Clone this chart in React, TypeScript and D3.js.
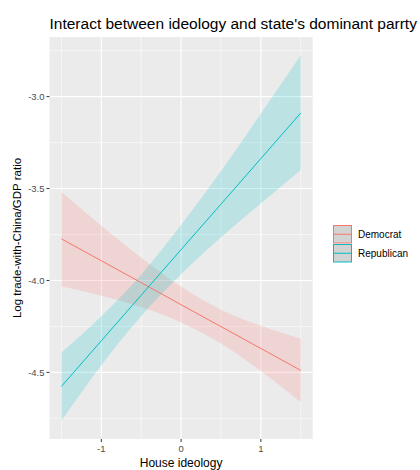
import React, { useEffect, useRef } from "react";
import * as d3 from "d3";

// House ideology values at which the fitted lines / bands were read
const ideology = [-1.5, -1, -0.5, 0, 0.5, 1, 1.5];

// Democrat fit and 95% band
const demFit = [-3.774, -3.893, -4.012, -4.132, -4.251, -4.37, -4.489];
const demLower = [-4.032, -4.083, -4.145, -4.228, -4.343, -4.493, -4.663];
const demUpper = [-3.519, -3.703, -3.877, -4.034, -4.159, -4.247, -4.317];

// Republican fit and 95% band
const repFit = [-4.576, -4.328, -4.08, -3.832, -3.585, -3.337, -3.089];
const repLower = [-4.763, -4.461, -4.193, -3.966, -3.765, -3.581, -3.399];
const repUpper = [-4.392, -4.195, -3.967, -3.698, -3.405, -3.093, -2.775];

const parties = ["Democrat", "Republican"];
const partyColors = ["#F8766D", "#00BFC4"];

const xTicks = [-1, 0, 1];
const xMinor = [-1.5, -0.5, 0.5, 1.5];
const yTicks = [-3.0, -3.5, -4.0, -4.5];
const yMinor = [-2.75, -3.25, -3.75, -4.25, -4.75];

export default function App() {
  const ref = useRef<SVGSVGElement>(null);

  useEffect(() => {
    const svg = d3.select(ref.current);
    svg.selectAll("*").remove();

    const panel = { left: 49.5, right: 312.7, top: 37, bottom: 439 };

    // ggplot style 5% expansion of the data range
    const xExt = d3.extent(ideology) as [number, number];
    const xPad = (xExt[1] - xExt[0]) * 0.05;
    const allY = [...demLower, ...demUpper, ...repLower, ...repUpper];
    const yExt = d3.extent(allY) as [number, number];
    const yPad = (yExt[1] - yExt[0]) * 0.05;

    const x = d3.scaleLinear()
      .domain([xExt[0] - xPad, xExt[1] + xPad])
      .range([panel.left, panel.right]);
    const y = d3.scaleLinear()
      .domain([yExt[0] - yPad, yExt[1] + yPad])
      .range([panel.bottom, panel.top]);

    const font = "'Liberation Sans', Arial, sans-serif";

    // title
    svg.append("text")
      .attr("x", panel.left)
      .attr("y", 29)
      .attr("font-family", font)
      .attr("font-size", 15.5)
      .attr("fill", "#000")
      .text("Interact between ideology and state's dominant parrty");

    // panel background
    svg.append("rect")
      .attr("x", panel.left)
      .attr("y", panel.top)
      .attr("width", panel.right - panel.left)
      .attr("height", panel.bottom - panel.top)
      .attr("fill", "#EBEBEB");

    const grid = svg.append("g");
    // minor grid
    grid.selectAll(".xmin").data(xMinor).enter().append("line")
      .attr("x1", d => x(d)).attr("x2", d => x(d))
      .attr("y1", panel.top).attr("y2", panel.bottom)
      .attr("stroke", "#fff").attr("stroke-width", 0.55);
    grid.selectAll(".ymin").data(yMinor).enter().append("line")
      .attr("y1", d => y(d)).attr("y2", d => y(d))
      .attr("x1", panel.left).attr("x2", panel.right)
      .attr("stroke", "#fff").attr("stroke-width", 0.55);
    // major grid
    grid.selectAll(".xmaj").data(xTicks).enter().append("line")
      .attr("x1", d => x(d)).attr("x2", d => x(d))
      .attr("y1", panel.top).attr("y2", panel.bottom)
      .attr("stroke", "#fff").attr("stroke-width", 1.1);
    grid.selectAll(".ymaj").data(yTicks).enter().append("line")
      .attr("y1", d => y(d)).attr("y2", d => y(d))
      .attr("x1", panel.left).attr("x2", panel.right)
      .attr("stroke", "#fff").attr("stroke-width", 1.1);

    const series = [
      { fit: demFit, lower: demLower, upper: demUpper },
      { fit: repFit, lower: repLower, upper: repUpper },
    ];

    const band = d3.area<number>()
      .x(i => x(ideology[i]))
      .y0(i => 0)
      .y1(i => 0)
      .curve(d3.curveMonotoneX);

    // ribbons
    series.forEach((s, k) => {
      const idx = ideology.map((_, i) => i);
      band.y0(i => y(s.lower[i])).y1(i => y(s.upper[i]));
      svg.append("path")
        .attr("d", band(idx))
        .attr("fill", partyColors[k])
        .attr("fill-opacity", 0.2);
    });

    // fitted lines
    const line = d3.line<number>()
      .x(i => x(ideology[i]))
      .y(i => 0);
    series.forEach((s, k) => {
      const idx = ideology.map((_, i) => i);
      line.y(i => y(s.fit[i]));
      svg.append("path")
        .attr("d", line(idx))
        .attr("fill", "none")
        .attr("stroke", partyColors[k])
        .attr("stroke-width", 1);
    });

    // x axis
    const xAxis = svg.append("g");
    xTicks.forEach(t => {
      xAxis.append("line")
        .attr("x1", x(t)).attr("x2", x(t))
        .attr("y1", panel.bottom).attr("y2", panel.bottom + 3)
        .attr("stroke", "#333").attr("stroke-width", 1);
      xAxis.append("text")
        .attr("x", x(t)).attr("y", panel.bottom + 13)
        .attr("text-anchor", "middle")
        .attr("font-family", font).attr("font-size", 9.5)
        .attr("fill", "#4D4D4D")
        .text(d3.format("d")(t).replace("−", "-"));
    });
    svg.append("text")
      .attr("x", (panel.left + panel.right) / 2)
      .attr("y", 467)
      .attr("text-anchor", "middle")
      .attr("font-family", font).attr("font-size", 12)
      .attr("fill", "#000")
      .text("House ideology");

    // y axis
    const yAxis = svg.append("g");
    yTicks.forEach(t => {
      yAxis.append("line")
        .attr("x1", panel.left - 3).attr("x2", panel.left)
        .attr("y1", y(t)).attr("y2", y(t))
        .attr("stroke", "#333").attr("stroke-width", 1);
      yAxis.append("text")
        .attr("x", panel.left - 5).attr("y", y(t))
        .attr("dy", "0.35em")
        .attr("text-anchor", "end")
        .attr("font-family", font).attr("font-size", 9.5)
        .attr("fill", "#4D4D4D")
        .text(d3.format(".1f")(t).replace("−", "-"));
    });
    svg.append("text")
      .attr("transform", `translate(21,${(panel.top + panel.bottom) / 2}) rotate(-90)`)
      .attr("text-anchor", "middle")
      .attr("font-family", font).attr("font-size", 11.5)
      .attr("fill", "#000")
      .text("Log trade-with-China/GDP ratio");

    // legend
    const legend = svg.append("g").attr("transform", "translate(333,225)");
    parties.forEach((p, k) => {
      const g = legend.append("g").attr("transform", `translate(0,${k * 19})`);
      g.append("rect")
        .attr("x", 0.5).attr("y", 0.5)
        .attr("width", 18).attr("height", 17.5)
        .attr("fill", "#D3D3D3")
        .attr("stroke", partyColors[k]).attr("stroke-width", 1);
      g.append("line")
        .attr("x1", 0.5).attr("x2", 18.5)
        .attr("y1", 9.25).attr("y2", 9.25)
        .attr("stroke", partyColors[k]).attr("stroke-width", 1);
      g.append("text")
        .attr("x", 25).attr("y", 9.25)
        .attr("dy", "0.35em")
        .attr("font-family", font).attr("font-size", 10)
        .attr("fill", "#000")
        .text(p);
    });
  }, []);

  return (
    <svg
      ref={ref}
      width={420}
      height={470}
      style={{ position: "absolute", left: 0, top: 0, background: "#fff" }}
    />
  );
}
